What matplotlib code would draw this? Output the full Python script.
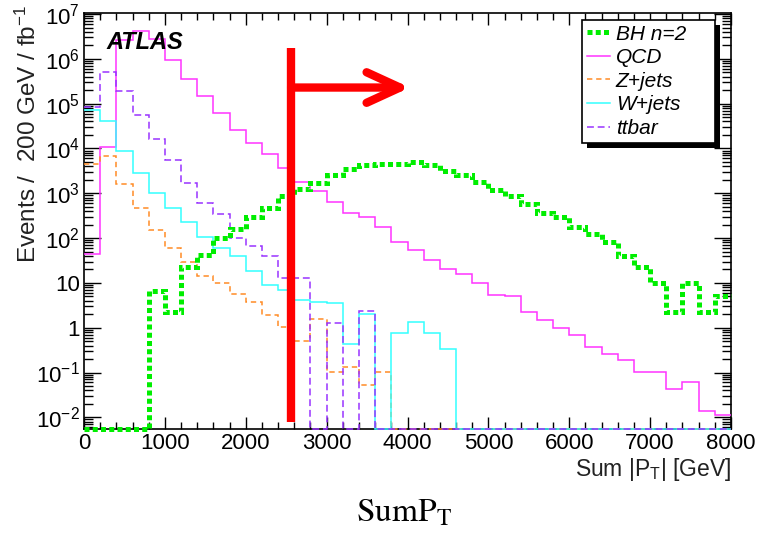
import numpy as np
import matplotlib
matplotlib.use("Agg")
import matplotlib.pyplot as plt
from matplotlib.lines import Line2D
from matplotlib.patches import Rectangle
from matplotlib.ticker import FixedLocator, FuncFormatter, LogLocator, MultipleLocator, NullFormatter

plt.rcParams["font.family"] = ["Liberation Sans", "DejaVu Sans"]
plt.rcParams["mathtext.fontset"] = "custom"
plt.rcParams["mathtext.rm"] = "Liberation Sans"
plt.rcParams["mathtext.it"] = "Liberation Sans:italic"
plt.rcParams["mathtext.bf"] = "Liberation Sans:bold"

# 200 GeV bins from 0 to 8000 GeV, events / 200 GeV / fb^-1
bin_edges = np.arange(0, 8001, 200)

bh_n2 = [0, 0, 0, 0, 6.5, 2.2, 23, 42, 102, 160,
         300, 480, 850, 1260, 1700, 2600, 3400, 4200, 4400, 4600,
         4900, 4200, 3100, 2500, 1800, 1200, 850, 590, 370, 290,
         180, 126, 80, 39, 23, 10, 2.2, 10, 2.2, 5]
qcd = [45, 1.1e4, 2.7e6, 4.1e6, 2.8e6, 9.6e5, 3.5e5, 1.45e5, 6.3e4, 2.6e4,
       1.35e4, 7.4e3, 3.6e3, 1.8e3, 1.15e3, 650, 370, 290, 180, 80,
       53, 32, 20, 16, 10, 5.5, 5.0, 2.3, 1.45, 1.0,
       0.70, 0.38, 0.26, 0.19, 0.105, 0.105, 0.042, 0.063, 0.014, 0.0115]
zjets = [4.6e3, 6.9e3, 1.65e3, 480, 155, 59, 30, 14.5, 10.2, 5.8,
         3.8, 1.95, 1.05, 0.51, 1.6, 0.105, 0.13, 0.054, 0.105, 0,
         0, 0, 0, 0, 0, 0, 0, 0, 0, 0,
         0, 0, 0, 0, 0, 0, 0, 0, 0, 0]
wjets = [7.4e4, 4.2e4, 8.9e3, 2.9e3, 1.04e3, 480, 233, 108, 59, 39,
         18, 9.2, 6.8, 4.2, 3.8, 3.5, 0.44, 2.0, 0, 0.78,
         1.37, 0.78, 0.34, 0, 0, 0, 0, 0, 0, 0,
         0, 0, 0, 0, 0, 0, 0, 0, 0, 0]
ttbar = [8.6e4, 5.2e5, 1.96e5, 5.7e4, 1.6e4, 5.4e3, 1.7e3, 620, 350, 102,
         68, 39, 12.6, 12.6, 0, 1.3, 0, 2.4, 0, 0,
         0, 0, 0, 0, 0, 0, 0, 0, 0, 0,
         0, 0, 0, 0, 0, 0, 0, 0, 0, 0]

labels = ["BH n=2", "QCD", "Z+jets", "W+jets", "ttbar"]

# cut marker: SumPT > 2560 GeV
cut_x = 2560
cut_arrow_end = 4030

YMIN, YMAX = 10 ** -2.26, 10 ** 7.03

styles = {
    "BH n=2": dict(color="#00ee00", lw=3.6, ls=(0, (1.0, 0.65))),
    "QCD": dict(color="#ff33ff", lw=1.1, ls="-"),
    "Z+jets": dict(color="#ff8c26", lw=1.1, ls=(0, (3.5, 2.5))),
    "W+jets": dict(color="#33ffff", lw=1.1, ls="-"),
    "ttbar": dict(color="#9933ff", lw=1.1, ls=(0, (4.5, 2.5))),
}
series = {"BH n=2": bh_n2, "QCD": qcd, "Z+jets": zjets, "W+jets": wjets, "ttbar": ttbar}

fig = plt.figure(figsize=(7.57, 5.36), dpi=100)
ax = fig.add_axes([84 / 757, 1 - 429 / 536, 647 / 757, 416.3 / 536])
ax.set_yscale("log")

# empty bins sit on the bottom of the frame, like ROOT draws them
draw_order = ["QCD", "Z+jets", "W+jets", "ttbar", "BH n=2"]
for z, name in enumerate(draw_order):
    vals = np.asarray(series[name], dtype=float)
    vals = np.where(vals > 0, vals, YMIN)
    st = styles[name]
    ax.stairs(vals, bin_edges, baseline=None, fill=False, edgecolor=st["color"],
              linewidth=st["lw"], linestyle=st["ls"], zorder=3 + z * 0.1, clip_on=False)

ax.set_xlim(0, 8000)
ax.set_ylim(YMIN, YMAX)

ax.xaxis.set_major_locator(MultipleLocator(1000))
ax.xaxis.set_minor_locator(MultipleLocator(200))
ax.yaxis.set_major_locator(FixedLocator([10.0 ** k for k in range(-2, 8)]))
ax.yaxis.set_minor_locator(LogLocator(base=10, subs=np.arange(2, 10), numticks=100))
ax.yaxis.set_minor_formatter(NullFormatter())


def _ylab(v, pos):
    e = int(round(np.log10(v)))
    if e == 0:
        return "1"
    if e == 1:
        return "10"
    return r"$\mathdefault{10^{%d}}$" % e


ax.yaxis.set_major_formatter(FuncFormatter(_ylab))
ax.tick_params(which="both", direction="in", top=True, right=True, width=1, colors="black")
ax.tick_params(axis="x", which="major", length=8.5, labelsize=16, pad=3)
ax.tick_params(axis="x", which="minor", length=5)
ax.tick_params(axis="y", which="major", length=12, labelsize=16, pad=3)
ax.tick_params(axis="y", which="minor", length=6.5)
for sp in ax.spines.values():
    sp.set_linewidth(1.2)

fig.text(28 / 757, 1 - 5 / 536, r"Events /  200 GeV / fb$^{-1}$", rotation=90,
         ha="center", va="top", fontsize=17.5, color="#222222")
fig.text(731 / 757, 1 - 476 / 536, r"Sum |P$_{\mathrm{T}}$| [GeV]", ha="right", va="baseline",
         fontsize=16.5, color="#222222")
ax.text(0.035, 0.955, "ATLAS", transform=ax.transAxes, fontsize=17, fontweight="bold",
        fontstyle="italic", ha="left", va="top")

# red cut line with arrow
y_arrow = 10 ** 5.36
ax.plot([cut_x, cut_x], [10 ** -2.1, 10 ** 6.25], color="red", lw=6, solid_capstyle="butt", zorder=6)
ax.annotate("", xy=(cut_arrow_end, y_arrow), xytext=(cut_x, y_arrow),
            arrowprops=dict(arrowstyle="->,head_length=2.4,head_width=1.1", color="red", lw=6,
                            shrinkA=0, shrinkB=0, capstyle="round", joinstyle="round"),
            zorder=6)

handles = [Line2D([], [], color=styles[n]["color"], lw=styles[n]["lw"], ls=styles[n]["ls"]) for n in labels]
leg = ax.legend(handles, labels, loc="upper left",
                bbox_to_anchor=(582 / 757, 1 - 141 / 536, 133 / 757, 121 / 536), mode="expand",
                bbox_transform=fig.transFigure, borderaxespad=0, fancybox=False, framealpha=1,
                edgecolor="black", prop={"style": "italic", "size": 15}, handlelength=1.1,
                handletextpad=0.3, labelspacing=0.22, borderpad=0.22)
leg.get_frame().set_linewidth(1.2)
leg.set_zorder(10)

fig.canvas.draw()
bb = leg.get_window_extent()
shadow = Rectangle((bb.x0 + 5, bb.y0 - 5), bb.width, bb.height, transform=None,
                   facecolor="black", edgecolor="none", zorder=9.9)
ax.add_patch(shadow)

fig.text(404 / 757, 1 - 521 / 536, r"$\mathrm{SumP}_{\mathrm{T}}$", math_fontfamily="stix",
         ha="center", va="baseline", fontsize=24)

fig.savefig("out.png", dpi=100)
